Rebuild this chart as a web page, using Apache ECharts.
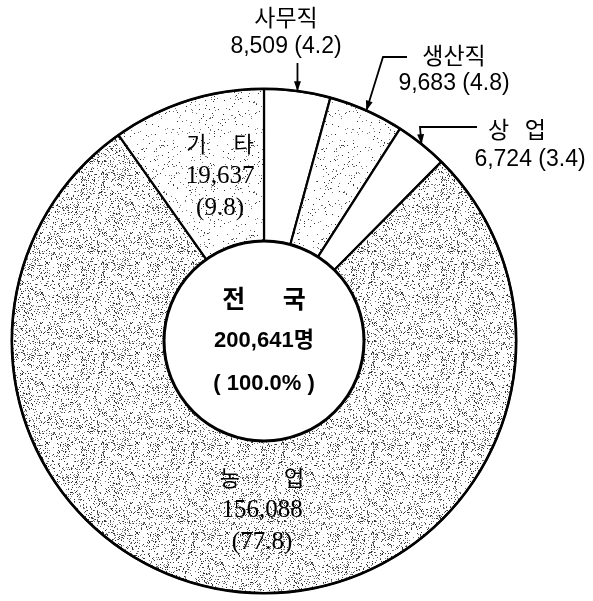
<!DOCTYPE html>
<html><head><meta charset="utf-8">
<script src="https://cdn.jsdelivr.net/npm/echarts@6/dist/echarts.min.js"></script>
<style>html,body{margin:0;padding:0;background:#fff}#c{width:593px;height:601px}</style>
</head><body><div id="c"></div>
<script>
// ---- data ----
const categories = ['사무직', '생산직', '상업', '농업', '기타'];
const labelNames = ['사무직', '생산직', '상   업', '농\u3000\u3000업', '기\u3000 타'];
const counts = [8509, 9683, 6724, 156088, 19637];
const countText = ['8,509', '9,683', '6,724', '156,088', '19,637'];
const percents = [4.2, 4.8, 3.4, 77.8, 9.8];
const totalLines = ['전\u3000\u2002국', '200,641명', '( 100.0% )'];

// ---- style helpers (texture only) ----
function stipple(density, seed, dotColor) {
  const c = document.createElement('canvas');
  c.width = 90; c.height = 90;
  const g = c.getContext('2d');
  g.fillStyle = '#fff'; g.fillRect(0, 0, 90, 90);
  let s = seed >>> 0;
  function r() { s = (s * 1664525 + 1013904223) >>> 0; return s / 4294967296; }
  for (let y = 0; y < 90; y++) for (let x = 0; x < 90; x++) {
    const v = r();
    if (v < density) {
      g.fillStyle = v < density * 0.5 ? dotColor : '#777';
      g.fillRect(x, y, 1, 1);
    }
  }
  return { image: c, repeat: 'repeat' };
}
const light = stipple(0.04, 7, '#333');
const dense = stipple(0.15, 13, '#333');
const fills = ['#ffffff', light, '#ffffff', dense, light];

const CX = 264, CY = 341, R0 = 100, R1 = 252;
const chart = echarts.init(document.getElementById('c'), null, { renderer: 'canvas' });

const outerPos = {
  0: { x: 286, y: 32 },
  1: { x: 454, y: 70 },
  2: { x: 530, y: 144 }
};

const data = categories.map((c, i) => {
  const inside = !(i in outerPos);
  return {
    name: c, value: counts[i],
    itemStyle: { color: fills[i] },
    label: inside ? {
      position: 'inside',
      formatter: `{k|${labelNames[i]}}\n{s|${countText[i]}}\n{s|(${percents[i]})}`
    } : {
      position: 'inside',
      formatter: `{k${i}|${labelNames[i]}}\n{n|${countText[i]} (${percents[i]})}`
    }
  };
});

// arrow tips at slice mid-angle on the outer edge, derived from data
const total = counts.reduce((a, b) => a + b, 0);
let acc = 0;
const mids = counts.map(v => { const m = (acc + v / 2) / total * 2 * Math.PI; acc += v; return m; });
const tip = i => [CX + R1 * Math.sin(mids[i]), CY - R1 * Math.cos(mids[i])];

function arrow(points) {
  const n = points.length;
  const [x1, y1] = points[n - 2], [x2, y2] = points[n - 1];
  const a = Math.atan2(y2 - y1, x2 - x1);
  const L = 10, W = 3.5;
  const bx = x2 - L * Math.cos(a), by = y2 - L * Math.sin(a);
  const head = [[x2, y2], [bx + W * Math.sin(a), by - W * Math.cos(a)], [bx - W * Math.sin(a), by + W * Math.cos(a)]];
  return [
    { type: 'polyline', z: 50, shape: { points: points }, style: { stroke: '#000', lineWidth: 1.8, fill: null } },
    { type: 'polygon', z: 50, shape: { points: head }, style: { fill: '#000' } }
  ];
}
const t0 = tip(0), t1 = tip(1), t2 = tip(2);
const graphics = [].concat(
  arrow([[t0[0], 63], t0]),
  arrow([[407, 57], [383, 57], t1]),
  arrow([[477, 127], [420, 127], t2])
);

const KF = "'Noto Sans CJK KR'";
const rich = {
  k: { fontSize: 22, fontFamily: KF, color: '#000', lineHeight: 32 },
  s: { fontSize: 25, fontFamily: "'Liberation Serif','Noto Sans CJK KR'", color: '#000', lineHeight: 32 },
  n: { fontSize: 23, fontFamily: "'Liberation Sans','Noto Sans CJK KR'", color: '#000', lineHeight: 29 },
  k0: { fontSize: 23, fontFamily: KF, color: '#000', lineHeight: 30 },
  k1: { fontSize: 23, fontFamily: KF, color: '#000', lineHeight: 27 },
  k2: { fontSize: 23, fontFamily: KF, color: '#000', lineHeight: 31, padding: [0, 26, 0, 0] }
};

chart.setOption({
  backgroundColor: '#fff',
  animation: false,
  graphic: graphics,
  series: [
    {
      type: 'pie',
      center: [CX, CY],
      radius: [R0, R1],
      startAngle: 90,
      clockwise: true,
      silent: true,
      avoidLabelOverlap: false,
      itemStyle: { borderColor: '#000', borderWidth: 2.2 },
      label: { show: true, rich: rich, color: '#000', lineHeight: 31 },
      labelLine: { show: false },
      labelLayout: function (p) {
        const o = outerPos[p.dataIndex];
        if (o) return { x: o.x, y: o.y, align: 'center', verticalAlign: 'middle' };
        if (p.dataIndex === 4) return { x: 220, y: 176, align: 'center', verticalAlign: 'middle' };
        if (p.dataIndex === 3) return { x: 262, y: 510, align: 'center', verticalAlign: 'middle' };
      },
      data: data
    },
    {
      type: 'pie',
      center: [CX, CY],
      radius: [R1 - 1, R1 + 1.5],
      silent: true,
      z: 4,
      itemStyle: { color: '#000' },
      label: { show: false },
      labelLine: { show: false },
      data: [{ value: 1, name: 'ring' }]
    },
    {
      type: 'pie',
      center: [CX, CY],
      radius: [0, R0],
      silent: true,
      z: 3,
      itemStyle: { color: '#fff', borderColor: '#000', borderWidth: 3 },
      label: {
        show: true, position: 'center',
        formatter: `{a|${totalLines[0]}}\n{b|${totalLines[1]}}\n{b|${totalLines[2]}}`,
        rich: {
          a: { fontSize: 25, fontWeight: 'bold', fontFamily: KF, color: '#000', lineHeight: 43 },
          b: { fontSize: 22, fontWeight: 'bold', fontFamily: "'Liberation Sans','Noto Sans CJK KR'", color: '#000', lineHeight: 43 }
        }
      },
      labelLine: { show: false },
      data: [{ value: 1, name: '전국' }]
    }
  ]
});
</script>
</body></html>
